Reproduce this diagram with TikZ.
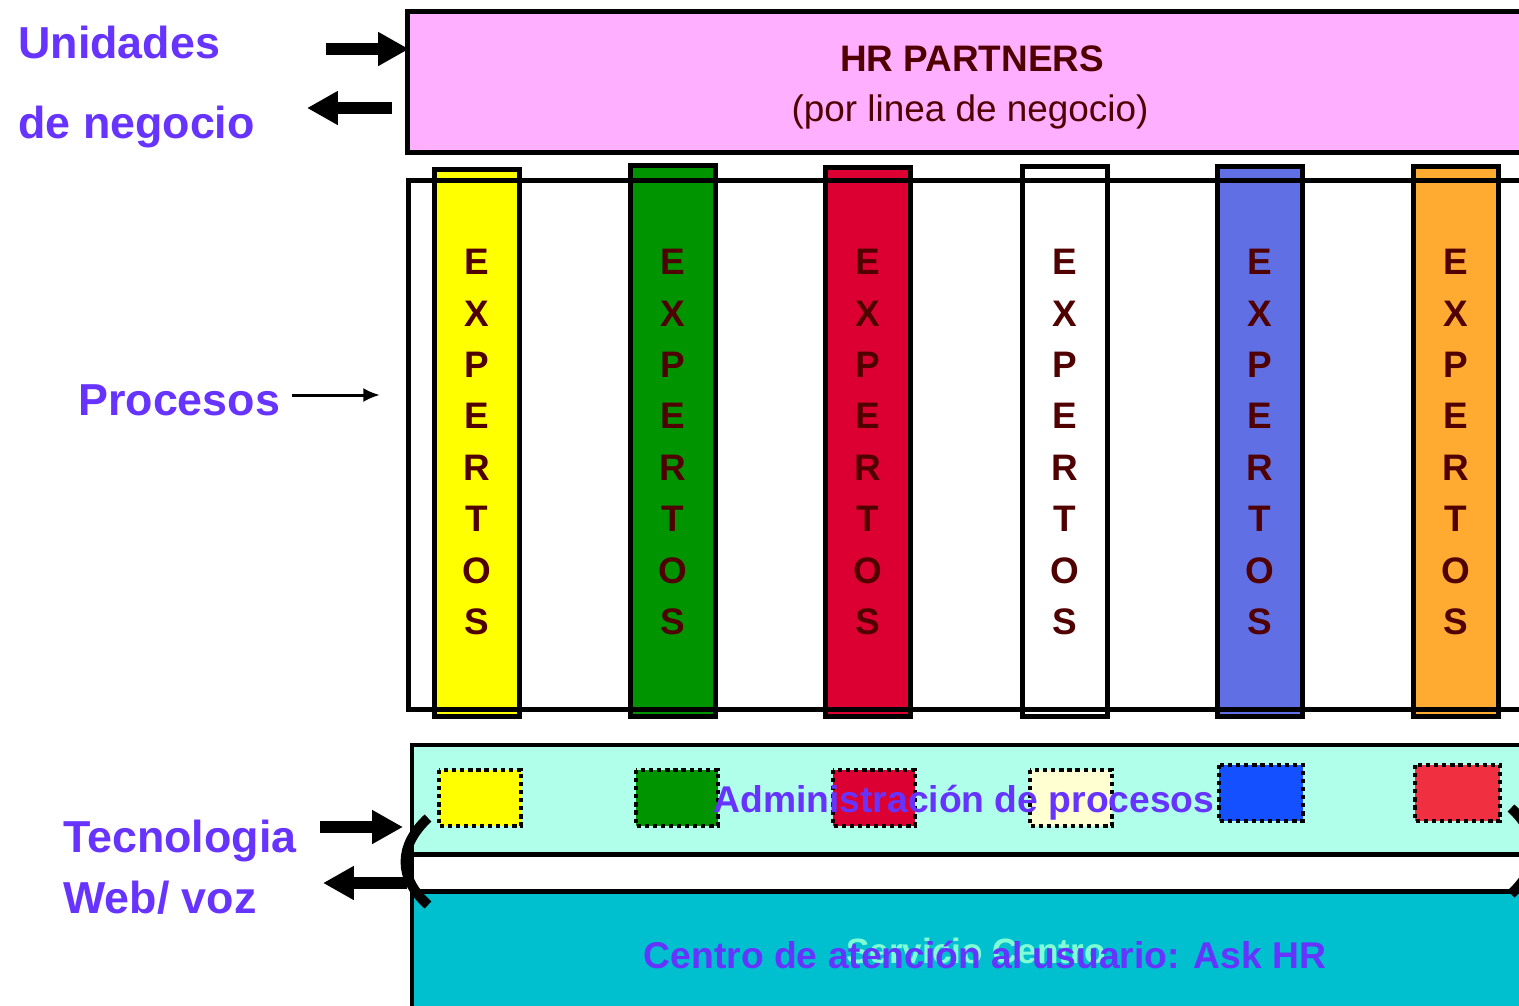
\documentclass[tikz,border=0pt]{standalone}
\usepackage{fontspec}
\setmainfont{Liberation Sans}
\usetikzlibrary{calc,arrows.meta}

\definecolor{rosa}{RGB}{255,175,255}
\definecolor{letra}{RGB}{80,0,0}
\definecolor{morado}{RGB}{102,51,255}
\definecolor{amarillo}{RGB}{255,255,0}
\definecolor{verde}{RGB}{0,148,0}
\definecolor{rojo}{RGB}{220,0,50}
\definecolor{azul}{RGB}{96,112,228}
\definecolor{naranja}{RGB}{255,170,48}
\definecolor{crema}{RGB}{255,255,210}
\definecolor{azulfuerte}{RGB}{20,80,255}
\definecolor{rojoclaro}{RGB}{240,48,64}
\definecolor{aguamarina}{RGB}{175,255,235}
\definecolor{cian}{RGB}{0,192,208}
\definecolor{servicio}{RGB}{128,255,212}

\begin{document}
\begin{tikzpicture}[x=0.02cm,y=-0.02cm,>=latex,
    marco/.style={draw=black,line width=2.8pt},
    letrero/.style={text=letra,font=\fontsize{21}{21}\selectfont\bfseries,inner sep=0pt},
    titulo/.style={text=morado,font=\fontsize{25.5}{26}\selectfont\bfseries,anchor=base west,inner sep=0pt},
    rotulo/.style={text=morado,font=\fontsize{21.2}{22}\selectfont\bfseries,anchor=base,inner sep=0pt},
    gruesa/.style={line width=6.3pt,-{Triangle[length=17.6pt,width=18.2pt]}},
    punteado/.style={draw=black,line width=2.4pt,dash pattern=on 2.4pt off 2.2pt}]
            \useasboundingbox (0,0) rectangle (1519,1005);
            \clip (0,0) rectangle (1519,1005);

            % HR partners
            \draw[marco,fill=rosa] (407.5,11.5) rectangle (1540,152.5);
            \node[letrero,anchor=base] (hr) at (972,71) {HR PARTNERS};
            \node[letrero,anchor=base,font=\fontsize{21}{21}\selectfont] (hrsub) at (970,121) {(por linea de negocio)};

            % columnas de expertos
            \foreach \x/\c/\t [count=\k] in {477/amarillo/167, 673/verde/163, 868/rojo/165, 1065/white/164, 1260/azul/164, 1456/naranja/164}{
                \draw[marco,fill=\c] (\x-42.5,\t+2.5) rectangle (\x+42.5,716.5);
                \foreach \l [count=\i] in {E,X,P,E,R,T,O,S}
                    \node[letrero] (l\k\i) at (\x,262+51.4*\i-51.4) {\l};
            }
            \draw[marco] (1540,180.5) -- (408.5,180.5) -- (408.5,709.5) -- (1540,709.5);

            % tecnologia
            \fill[aguamarina] (412,745) rectangle (1540,854.5);
            \fill[cian] (412,891.5) rectangle (1540,1010);
            \draw[marco] (1540,745) -- (412,745) -- (412,1010);
            \draw[marco] (412,854.5) -- (1540,854.5) (412,891.5) -- (1540,891.5);
            \foreach \x/\y/\w/\c in {437/768/86/amarillo, 634/768/86/verde, 831/768/86/rojo, 1028/768/86/crema, 1217/763/88/azulfuerte, 1413/763/89/rojoclaro}
                \draw[punteado,fill=\c] (\x+2,\y+2) rectangle (\x+\w-2,\y+58);
            \node[rotulo] (adm) at (964,812) {Administración de procesos};
            \node[rotulo,text=servicio,font=\fontsize{20}{20}\selectfont\bfseries] (serv) at (976,963) {Servicio Centro};
            \node[rotulo] (ask) at (985,968) {Centro de atención al usuario: Ask HR};
            \draw[line width=5.6pt] (428,818) .. controls (398,846) and (398,878) .. (428,905);
            \draw[line width=5.6pt] (1511,808) .. controls (1541,836) and (1541,866) .. (1511,894);

            % rotulos de la izquierda
            \node[titulo] (uni) at (18,58) {Unidades};
            \node[titulo] (neg) at (18,138) {de negocio};
            \node[titulo] (pro) at (78,415) {Procesos};
            \node[titulo] (tec) at (63,852) {Tecnologia};
            \node[titulo] (web) at (63,913) {Web/ voz};

            \coordinate (A) at (326,49);
            \coordinate (B) at (409,49);
            \coordinate (C) at (392,108);
            \coordinate (D) at (307,108);
            \coordinate (E) at (292,395);
            \coordinate (F) at (380,395);
            \coordinate (G) at (320,827);
            \coordinate (H) at (403,827);
            \coordinate (I) at (407,883);
            \coordinate (J) at (323,883);
            \draw[gruesa] (A) -- (B);
            \draw[gruesa] (C) -- (D);
            \draw[line width=1.7pt,-{Latex[length=9.5pt,width=8pt]}] (E) -- (F);
            \draw[gruesa] (G) -- (H);
            \draw[gruesa] (I) -- (J);
        \end{tikzpicture}
\end{document}
